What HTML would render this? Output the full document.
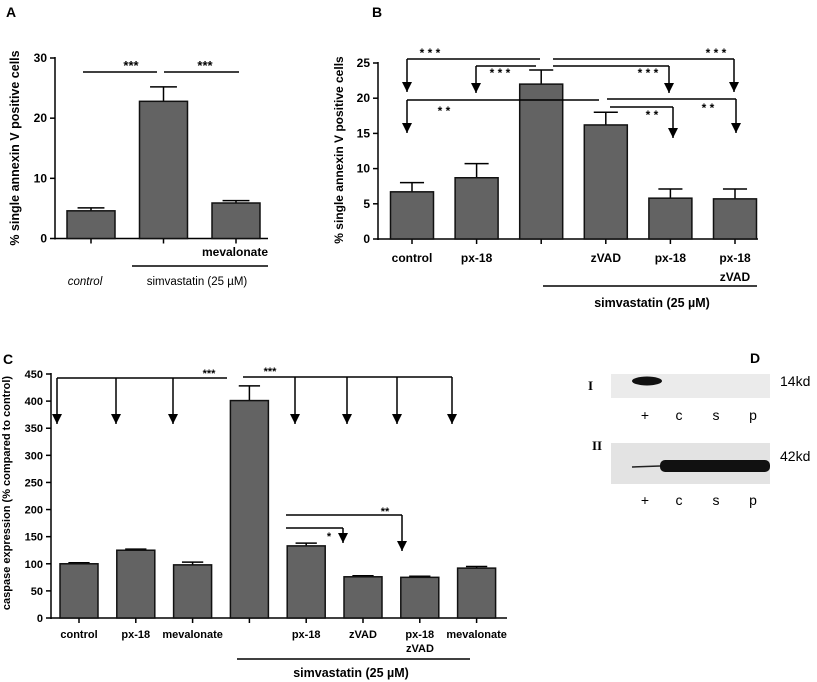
<!DOCTYPE html>
<html><head><meta charset="utf-8"><style>
body{margin:0;background:#fff}
svg{display:block;font-family:"Liberation Sans",Arial,sans-serif}
</style></head><body>
<svg id="fig" width="817" height="682" viewBox="0 0 817 682" xmlns="http://www.w3.org/2000/svg">
<defs><marker id="ah" markerWidth="12" markerHeight="12" refX="10" refY="5" orient="auto" markerUnits="userSpaceOnUse"><path d="M0,0 L10,5 L0,10 Z" fill="#000"/></marker></defs>
<g id="A"></g>
<g id="B"></g>
<g id="C"></g>
<g id="D">
  <text x="750" y="363" font-size="14" font-weight="bold">D</text>
  <text x="588" y="390" font-family="Liberation Serif,serif" font-size="13" font-weight="bold">I</text>
  <rect x="611" y="374" width="159" height="24" fill="#ebebeb"/>
  <ellipse cx="647" cy="381" rx="15" ry="4.5" fill="#111"/>
  <text x="780" y="386" font-size="14">14kd</text>
  <text x="592" y="450" font-family="Liberation Serif,serif" font-size="13" font-weight="bold">II</text>
  <rect x="611" y="443" width="159" height="41" fill="#e3e3e3"/>
  <path d="M632,467 L660,466" stroke="#222" stroke-width="1.5"/>
  <rect x="660" y="460" width="110" height="12" rx="5" fill="#111"/>
  <text x="780" y="461" font-size="14">42kd</text>
  <g font-size="14" text-anchor="middle">
    <text x="645" y="420">+</text><text x="679" y="420">c</text><text x="716" y="420">s</text><text x="753" y="420">p</text>
    <text x="645" y="505">+</text><text x="679" y="505">c</text><text x="716" y="505">s</text><text x="753" y="505">p</text>
  </g>
</g>
</svg>
<script>
// Panel A data
const aValues=[4.6,22.8,5.9];
const aErrors=[0.5,2.4,0.4];
const aTicks=[0,10,20,30];
// Panel B data
const bValues=[6.7,8.7,22.0,16.2,5.8,5.7];
const bErrors=[1.3,2.0,2.0,1.8,1.3,1.4];
const bTicks=[0,5,10,15,20,25];
const bLabels=["control","px-18","","zVAD","px-18","px-18"];
// Panel C data
const cValues=[100,125,98,401,133,76,75,92];
const cErrors=[2,2,5,27,5,2,2,3];
const cTicks=[0,50,100,150,200,250,300,350,400,450];
const cLabels=["control","px-18","mevalonate","","px-18","zVAD","px-18","mevalonate"];

const NS="http://www.w3.org/2000/svg";
function mk(parent,tag,attrs,txt){const e=document.createElementNS(NS,tag);for(const k in attrs)e.setAttribute(k,attrs[k]);if(txt!==undefined)e.textContent=txt;parent.appendChild(e);return e;}
function line(g,x1,y1,x2,y2,arrow){const l=mk(g,'line',{x1:x1,y1:y1,x2:x2,y2:y2,stroke:'#000','stroke-width':1.5});if(arrow)l.setAttribute('marker-end','url(#ah)');return l;}

function drawPanel(g,cfg){
  const y=v=>cfg.y0-(v-cfg.vmin)*(cfg.y0-cfg.y1)/(cfg.vmax-cfg.vmin);
  line(g,cfg.ax,y(cfg.vmax)-1,cfg.ax,cfg.y0+1);
  line(g,cfg.ax,cfg.y0,cfg.axEnd,cfg.y0);
  cfg.ticks.forEach(t=>{
    line(g,cfg.ax-5,y(t),cfg.ax,y(t));
    const tl=mk(g,'text',{x:cfg.ax-8,y:y(t)+4,'font-size':cfg.fs,'font-weight':'bold','text-anchor':'end'},t);
    
    
  });
  cfg.values.forEach((v,i)=>{
    const cx=cfg.x0+i*cfg.step;
    line(g,cx,cfg.y0,cx,cfg.y0+5);
    const top=y(v+cfg.errors[i]);
    line(g,cx,y(v),cx,top);
    line(g,cx-cfg.bw*0.28,top,cx+cfg.bw*0.28,top);
    const r=mk(g,'rect',{x:cx-cfg.bw/2,y:y(v),width:cfg.bw,height:cfg.y0-y(v),fill:'#636363',stroke:'#111','stroke-width':1.5});
    
    
    if(cfg.labels&&cfg.labels[i]){
      const t=mk(g,'text',{x:cx,y:cfg.labY,'font-size':cfg.fs,'font-weight':'bold','text-anchor':'middle'},cfg.labels[i]);
      
      
    }
  });
  return {y:y,x:i=>cfg.x0+i*cfg.step};
}
function txt(g,x,y,s,a){return mk(g,'text',Object.assign({x:x,y:y},a||{}),s);}

// Panel A
const A=document.getElementById('A');
drawPanel(A,{ax:55,axEnd:268,y0:238.5,y1:58,vmin:0,vmax:30,ticks:aTicks,values:aValues,errors:aErrors,x0:91,step:72.5,bw:48,fs:12});
txt(A,6,17,'A',{'font-size':14,'font-weight':'bold'});
txt(A,0,0,'% single annexin V positive cells',{'font-size':12.5,'font-weight':'bold','text-anchor':'middle',transform:'translate(19,148) rotate(-90)'});
line(A,83,72,157,72);line(A,164,72,239,72);
txt(A,131,70,'***',{'font-size':13,'font-weight':'bold','text-anchor':'middle'});
txt(A,205,70,'***',{'font-size':13,'font-weight':'bold','text-anchor':'middle'});
txt(A,268,256,'mevalonate',{'font-size':12,'font-weight':'bold','text-anchor':'end'});
line(A,132,266,268,266);
txt(A,85,285,'control',{'font-size':11.5,'font-style':'italic','text-anchor':'middle'});
txt(A,197,285,'simvastatin (25 µM)',{'font-size':11.5,'text-anchor':'middle'});

// Panel B
const B=document.getElementById('B');
drawPanel(B,{ax:378,axEnd:758,y0:239,y1:63,vmin:0,vmax:25,ticks:bTicks,values:bValues,errors:bErrors,x0:412,step:64.6,bw:43,fs:12,labels:bLabels,labY:262});
txt(B,372,17,'B',{'font-size':14,'font-weight':'bold'});
txt(B,0,0,'% single annexin V positive cells',{'font-size':12,'font-weight':'bold','text-anchor':'middle',transform:'translate(343,150) rotate(-90)'});
txt(B,735,281,'zVAD',{'font-size':12,'font-weight':'bold','text-anchor':'middle'});
line(B,543,286,757,286);
txt(B,652,307,'simvastatin (25 µM)',{'font-size':12.5,'font-weight':'bold','text-anchor':'middle'});
// brackets
line(B,407,59,540,59);line(B,407,59,407,92,true);
line(B,553,59,734,59);line(B,734,59,734,92,true);
line(B,476,66,536,66);line(B,476,66,476,93,true);
line(B,553,66,669,66);line(B,669,66,669,93,true);
line(B,407,100,599,100);line(B,407,100,407,133,true);
line(B,607,99,736,99);line(B,736,99,736,133,true);
line(B,610,107,673,107);line(B,673,107,673,138,true);
const sB=[[430,57,'* * *'],[500,77,'* * *'],[716,57,'* * *'],[648,77,'* * *'],[444,115,'* *'],[652,119,'* *'],[708,112,'* *']];
sB.forEach(s=>txt(B,s[0],s[1],s[2],{'font-size':12,'font-weight':'bold','text-anchor':'middle'}));

// Panel C
const C=document.getElementById('C');
drawPanel(C,{ax:51,axEnd:507,y0:618,y1:374,vmin:0,vmax:450,ticks:cTicks,values:cValues,errors:cErrors,x0:79,step:56.8,bw:38,fs:11,labels:cLabels,labY:638});
txt(C,3,364,'C',{'font-size':14,'font-weight':'bold'});
txt(C,0,0,'caspase expression (% compared to control)',{'font-size':11,'font-weight':'bold','text-anchor':'middle',transform:'translate(10,493) rotate(-90)'});
txt(C,420,652,'zVAD',{'font-size':11,'font-weight':'bold','text-anchor':'middle'});
line(C,237,659,470,659);
txt(C,351,677,'simvastatin (25 µM)',{'font-size':12.5,'font-weight':'bold','text-anchor':'middle'});
line(C,57,378,227,378);
[57,116,173].forEach(x=>line(C,x,378,x,424,true));
line(C,243,377,452,377);
[295,347,397,452].forEach(x=>line(C,x,377,x,424,true));
line(C,286,515,402,515);line(C,402,515,402,551,true);
line(C,286,528,343,528);line(C,343,528,343,543,true);
txt(C,209,377,'***',{'font-size':11,'font-weight':'bold','text-anchor':'middle'});
txt(C,270,375,'***',{'font-size':11,'font-weight':'bold','text-anchor':'middle'});
txt(C,385,515,'**',{'font-size':11,'font-weight':'bold','text-anchor':'middle'});
txt(C,329,540,'*',{'font-size':11,'font-weight':'bold','text-anchor':'middle'});
</script>
</body></html>
